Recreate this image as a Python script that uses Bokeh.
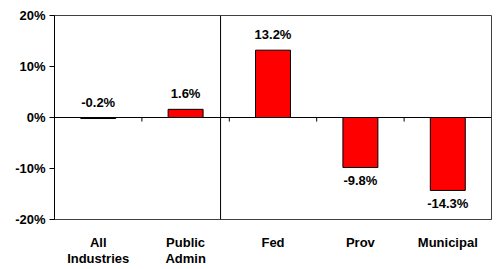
from bokeh.plotting import figure
from bokeh.models import Range1d, FixedTicker, Span, ColumnDataSource, LinearAxis
from bokeh.embed import file_html
from bokeh.resources import INLINE
from bokeh.core.properties import value

categories = ["All\nIndustries", "Public\nAdmin", "Fed", "Prov", "Municipal"]
values = [-0.2, 1.6, 13.2, -9.8, -14.3]
value_labels = ["-0.2%", "1.6%", "13.2%", "-9.8%", "-14.3%"]
y_ticks = [-20, -10, 0, 10, 20]
y_tick_labels = ["-20%", "-10%", "0%", "10%", "20%"]

FONT = "Liberation Sans"
FS = "13px"

xs = [i + 0.5 for i in range(len(categories))]

p = figure(width=495, height=268, output_backend="svg", toolbar_location=None,
           x_range=Range1d(0, len(categories)), y_range=Range1d(-20, 20),
           min_border_left=54, min_border_right=4, min_border_top=15, min_border_bottom=0)
p.background_fill_color = "white"
p.border_fill_color = "white"
p.outline_line_color = "#404040"
p.outline_line_width = 1
p.grid.visible = False

# y axis
p.yaxis.ticker = FixedTicker(ticks=y_ticks)
p.yaxis.major_label_overrides = {t: l for t, l in zip(y_ticks, y_tick_labels)}
p.yaxis.major_label_text_font = FONT
p.yaxis.major_label_text_font_style = "bold"
p.yaxis.major_label_text_font_size = FS
p.yaxis.major_label_text_color = "black"
p.yaxis.axis_line_color = "black"
p.yaxis.major_tick_line_color = "black"
p.yaxis.major_tick_out = 5
p.yaxis.major_tick_in = 0
p.yaxis.minor_tick_line_color = None
p.yaxis.major_label_standoff = 4

# category labels: first line on the main x axis, second line on an extra axis
line1 = [c.split("\n")[0] for c in categories]
line2 = [c.split("\n")[1] if "\n" in c else "" for c in categories]

def style_x(ax, labels, standoff, line_color):
    ax.ticker = FixedTicker(ticks=xs)
    ax.major_label_overrides = {x: t for x, t in zip(xs, labels)}
    ax.major_label_text_font = FONT
    ax.major_label_text_font_style = "bold"
    ax.major_label_text_font_size = FS
    ax.major_label_text_color = "black"
    ax.major_label_text_line_height = 1.0
    ax.axis_line_color = line_color
    ax.major_tick_line_color = None
    ax.minor_tick_line_color = None
    ax.major_tick_out = 0
    ax.major_tick_in = 0
    ax.minor_tick_out = 0
    ax.minor_tick_in = 0
    ax.major_label_standoff = standoff

style_x(p.xaxis[0], line1, 15, "#404040")
ax2 = LinearAxis()
style_x(ax2, line2, -2, None)
p.add_layout(ax2, "below")

# bars
src = ColumnDataSource(dict(x=xs, top=values))
p.vbar(x="x", top="top", bottom=0, width=0.4, source=src,
       fill_color="#FF0000", line_color="black", line_width=1)

# zero line and divider
p.add_layout(Span(location=0, dimension="width", line_color="black", line_width=1))
p.add_layout(Span(location=1.9, dimension="height", line_color="black", line_width=1))

# small ticks on the zero line at category boundaries
bnd = list(range(1, len(categories)))
p.segment(x0=bnd, y0=[0] * len(bnd), x1=bnd, y1=[-0.8] * len(bnd),
          line_color="black", line_width=1)

# value labels
pos = ColumnDataSource(dict(x=[x for x, v in zip(xs, values) if v > -1],
                            y=[max(v, 0) for v in values if v > -1],
                            t=[l for l, v in zip(value_labels, values) if v > -1]))
neg = ColumnDataSource(dict(x=[x for x, v in zip(xs, values) if v <= -1],
                            y=[v for v in values if v <= -1],
                            t=[l for l, v in zip(value_labels, values) if v <= -1]))
p.text(x="x", y="y", text="t", source=pos, text_align="center", text_baseline="bottom",
       y_offset=-8, text_font=value(FONT), text_font_style="bold", text_font_size=FS,
       text_color="black")
p.text(x="x", y="y", text="t", source=neg, text_align="center", text_baseline="top",
       y_offset=6, text_font=value(FONT), text_font_style="bold", text_font_size=FS,
       text_color="black")

open("out.html", "w").write(file_html(p, INLINE))
